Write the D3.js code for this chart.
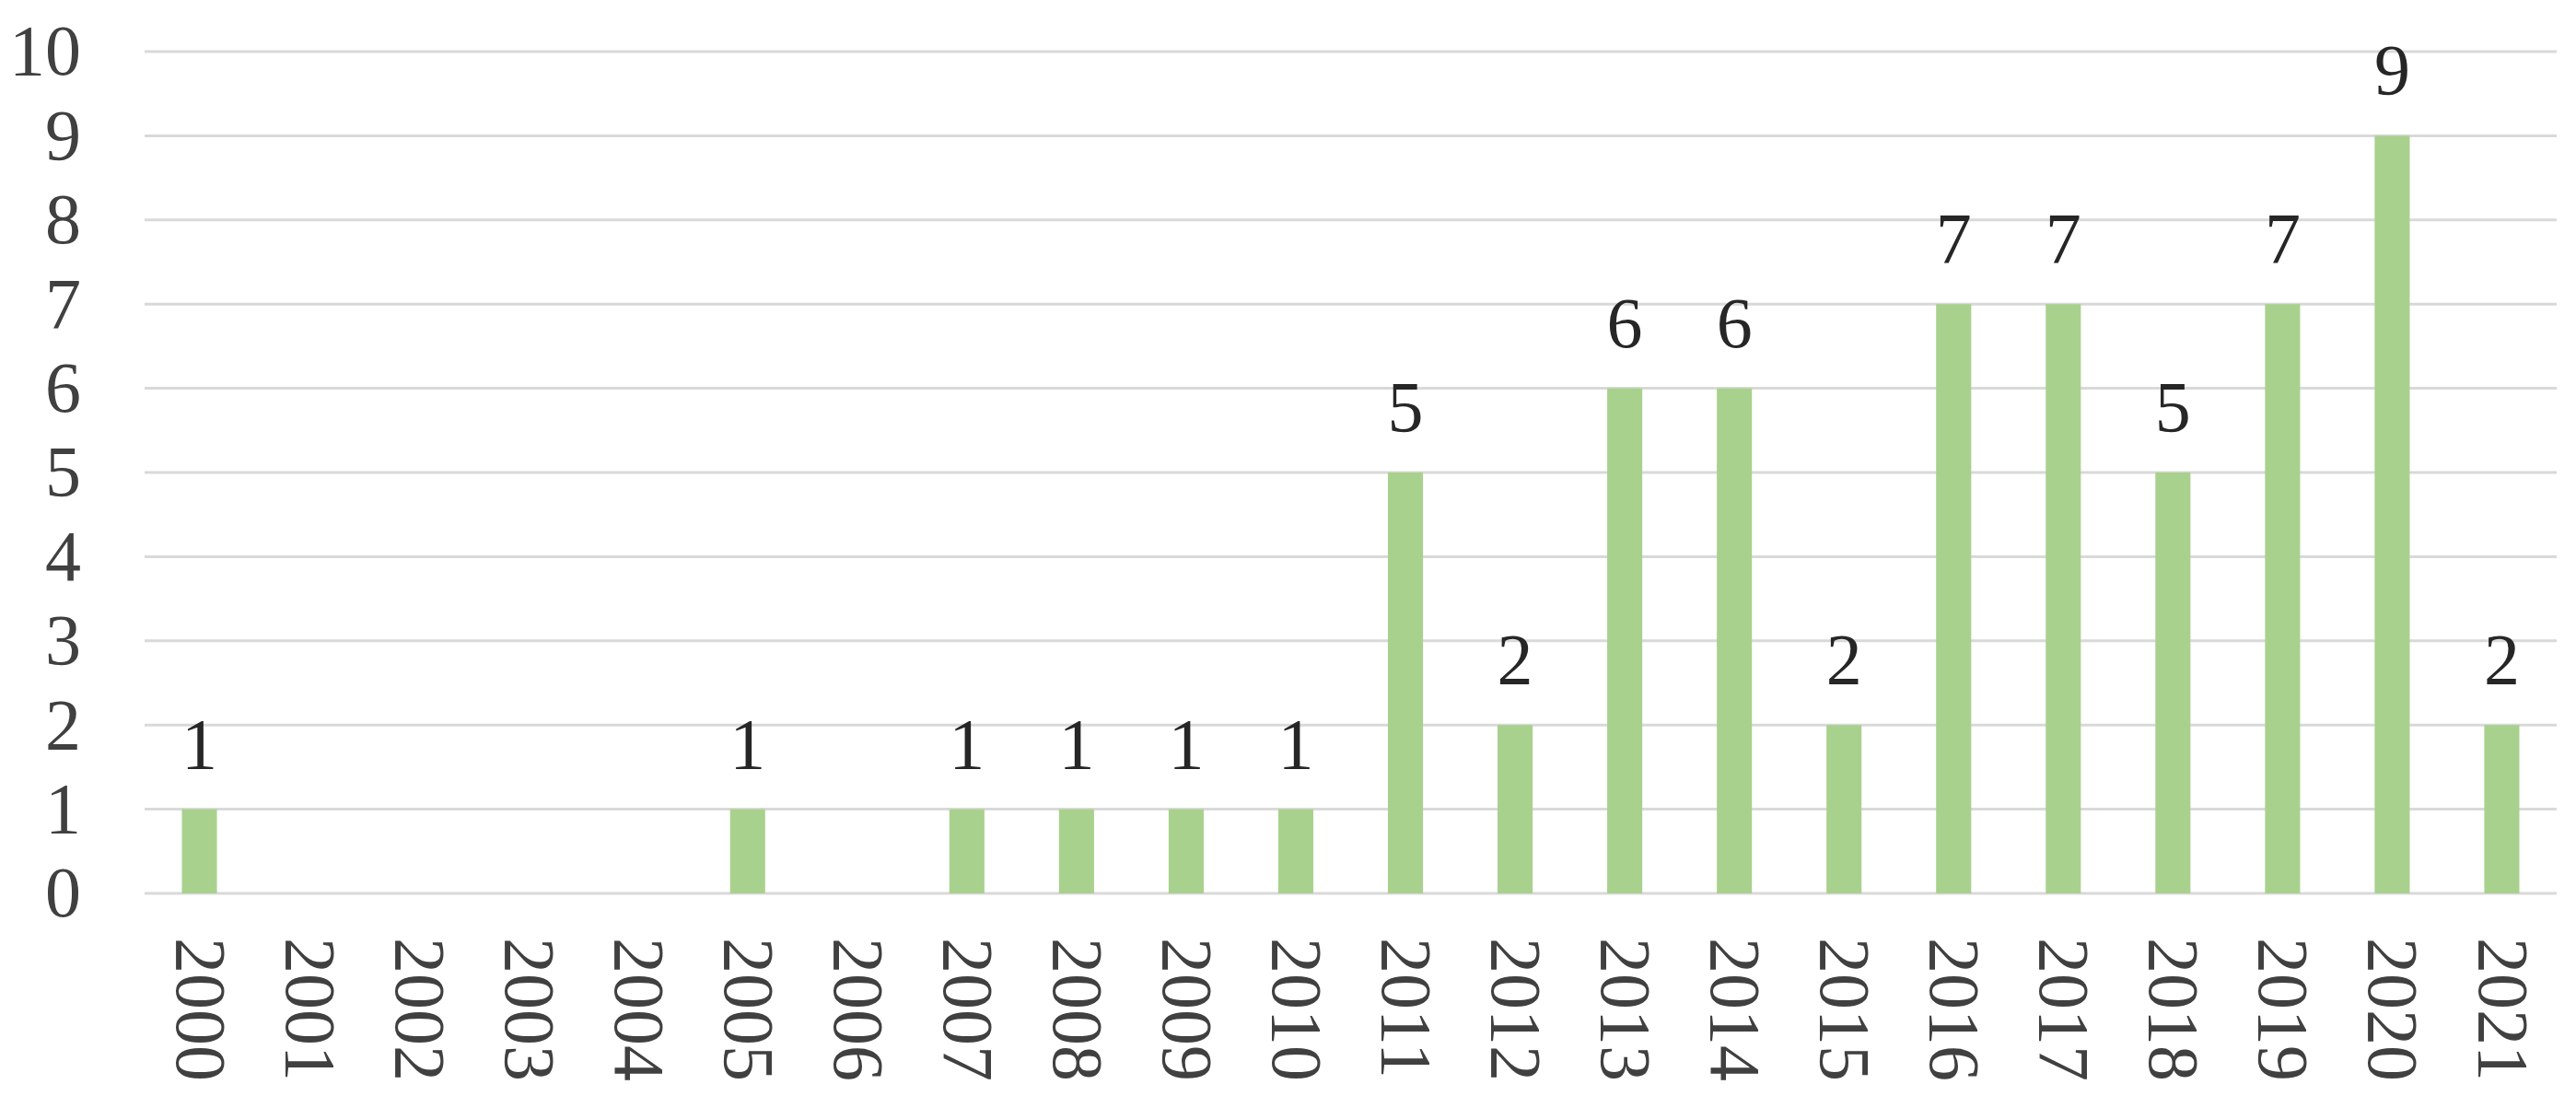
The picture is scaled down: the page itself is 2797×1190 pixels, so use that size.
<!DOCTYPE html>
<html>
<head>
<meta charset="utf-8">
<script src="https://cdn.jsdelivr.net/npm/d3@7"></script>
<style>
  body { margin: 0; background: #fff; }
  svg { display: block; }
</style>
</head>
<body>
<div id="chart"></div>
<script>
// data
const years = ["2000","2001","2002","2003","2004","2005","2006","2007","2008","2009","2010",
               "2011","2012","2013","2014","2015","2016","2017","2018","2019","2020","2021"];
const counts = [1,0,0,0,0,1,0,1,1,1,1,5,2,6,6,2,7,7,5,7,9,2];
const yTicks = [0,1,2,3,4,5,6,7,8,9,10];

const width = 2797, height = 1190;
const margin = {top: 56, right: 21, bottom: 220, left: 157};

let svg = d3.select("#chart").append("svg")
    .attr("width", width)
    .attr("height", height);

let x = d3.scaleBand()
    .domain(years)
    .range([margin.left, width - margin.right])
    .paddingInner(0.68)
    .paddingOuter(0.34);

let y = d3.scaleLinear()
    .domain([0, 10])
    .range([height - margin.bottom, margin.top]);

// gridlines
svg.append("g")
    .selectAll("line")
    .data(yTicks)
    .enter()
    .append("line")
    .attr("x1", margin.left)
    .attr("x2", width - margin.right)
    .attr("y1", d => y(d))
    .attr("y2", d => y(d))
    .attr("stroke", "#d9d9d9")
    .attr("stroke-width", 3);

// y axis labels
let yAxis = svg.append("g")
    .attr("transform", `translate(${margin.left - 69},0)`)
    .call(d3.axisLeft(y).tickValues(yTicks).tickSize(0).tickPadding(0));
yAxis.select(".domain").remove();
yAxis.selectAll("text")
    .attr("font-family", "'Liberation Serif', 'Times New Roman', serif")
    .attr("font-size", 78)
    .attr("fill", "#404040");

// bars
svg.append("g")
    .selectAll("rect")
    .data(years)
    .enter()
    .append("rect")
    .attr("x", d => x(d))
    .attr("width", x.bandwidth())
    .attr("y", (d, i) => y(counts[i]))
    .attr("height", (d, i) => y(0) - y(counts[i]))
    .attr("fill", "#a9d18e");

// value labels
svg.append("g")
    .selectAll("text")
    .data(years.filter((d, i) => counts[i] > 0))
    .enter()
    .append("text")
    .attr("x", d => x(d) + x.bandwidth() / 2)
    .attr("y", d => y(counts[years.indexOf(d)]) - 45)
    .attr("text-anchor", "middle")
    .attr("font-family", "'Liberation Serif', 'Times New Roman', serif")
    .attr("font-size", 78)
    .attr("fill", "#262626")
    .text(d => counts[years.indexOf(d)]);

// x axis labels, rotated
let xAxis = svg.append("g")
    .attr("transform", `translate(0,${y(0) + 48})`)
    .call(d3.axisBottom(x).tickSize(0).tickPadding(0));
xAxis.select(".domain").remove();
xAxis.selectAll("text")
    .attr("font-family", "'Liberation Serif', 'Times New Roman', serif")
    .attr("font-size", 78)
    .attr("fill", "#404040")
    .attr("text-anchor", "start")
    .attr("dy", "0.32em")
    .attr("y", 0)
    .attr("transform", "rotate(90)");
</script>
</body>
</html>
